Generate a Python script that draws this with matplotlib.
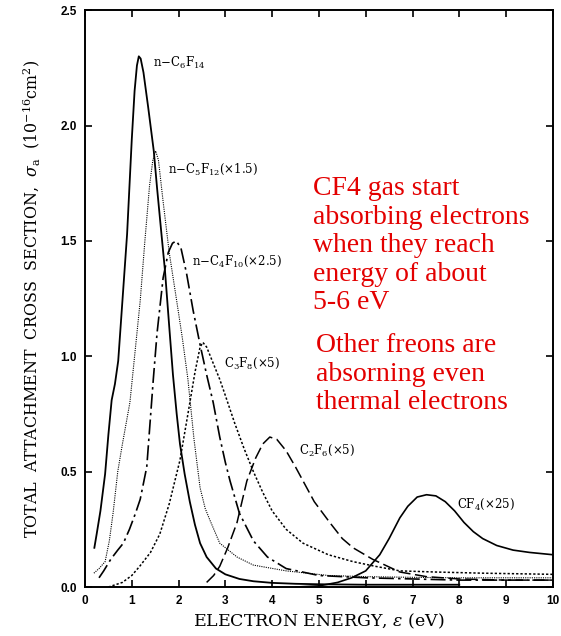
import matplotlib; matplotlib.use('Agg')
import matplotlib.pyplot as plt

plt.rcParams.update({
    'font.family': 'serif', 'font.serif': ['DejaVu Serif'],
    'mathtext.fontset': 'dejavuserif',
    'xtick.direction': 'in', 'ytick.direction': 'in',
    'axes.linewidth': 1.4,
})

# curves (energy in eV, cross section in 1e-16 cm^2)
c6f14_x = [0.2, 0.25, 0.33, 0.43, 0.5, 0.57, 0.64, 0.71, 0.8, 0.9, 1.0, 1.06, 1.11, 1.15, 1.19,
           1.25, 1.35, 1.47, 1.54, 1.62, 1.71, 1.8, 1.88, 1.96, 2.03, 2.13, 2.24, 2.35, 2.46, 2.6,
           2.8, 3.0, 3.3, 3.6, 4.0, 4.5, 5.0, 5.5, 6.0, 7.0, 8.0]
c6f14_y = [0.17, 0.23, 0.33, 0.49, 0.66, 0.81, 0.88, 0.98, 1.24, 1.53, 1.94, 2.15, 2.26, 2.30, 2.29,
           2.23, 2.08, 1.89, 1.73, 1.56, 1.37, 1.13, 0.92, 0.75, 0.62, 0.49, 0.37, 0.27, 0.19, 0.13,
           0.08, 0.055, 0.035, 0.025, 0.018, 0.014, 0.012, 0.011, 0.01, 0.01, 0.01]

c5f12_x = [0.19, 0.3, 0.43, 0.52, 0.6, 0.7, 0.8, 0.96, 1.05, 1.18, 1.28, 1.38, 1.45, 1.51, 1.57,
           1.67, 1.8, 1.96, 2.08, 2.2, 2.33, 2.46, 2.57, 2.67, 2.88, 3.25, 3.6, 4.3, 5.2, 6.0,
           7.0, 8.0, 9.0, 10.0]
c5f12_y = [0.06, 0.08, 0.11, 0.2, 0.32, 0.5, 0.62, 0.8, 0.98, 1.24, 1.5, 1.74, 1.85, 1.89, 1.85,
           1.67, 1.45, 1.24, 1.08, 0.9, 0.64, 0.43, 0.34, 0.29, 0.19, 0.13, 0.095, 0.07, 0.05, 0.045,
           0.042, 0.04, 0.04, 0.04]

c4f10_x = [0.3, 0.4, 0.55, 0.7, 0.82, 0.95, 1.08, 1.18, 1.32, 1.46, 1.54, 1.67, 1.78, 1.87, 1.95,
           2.05, 2.17, 2.31, 2.46, 2.6, 2.74, 2.88, 3.0, 3.1, 3.3, 3.6, 3.9, 4.3, 5.0, 6.0,
           7.0, 8.0, 9.0, 10.0]
c4f10_y = [0.04, 0.07, 0.12, 0.16, 0.19, 0.25, 0.32, 0.38, 0.52, 0.9, 1.1, 1.34, 1.45, 1.49, 1.50,
           1.47, 1.36, 1.2, 1.05, 0.92, 0.8, 0.65, 0.54, 0.46, 0.32, 0.2, 0.13, 0.08, 0.05, 0.04,
           0.035, 0.03, 0.03, 0.03]

c3f8_x = [0.5, 0.8, 1.0, 1.17, 1.4, 1.6, 1.8, 2.03, 2.2, 2.35, 2.46, 2.52, 2.6, 2.7, 2.88,
          3.0, 3.2, 3.4, 3.6, 3.8, 4.0, 4.3, 4.66, 5.2, 5.73, 6.2, 6.73, 7.5, 8.5, 10.0]
c3f8_y = [0.0, 0.02, 0.05, 0.09, 0.15, 0.23, 0.36, 0.55, 0.75, 0.93, 1.04, 1.06, 1.04, 0.99, 0.9,
          0.83, 0.71, 0.6, 0.5, 0.41, 0.33, 0.25, 0.19, 0.14, 0.11, 0.09, 0.07, 0.065, 0.06, 0.055]

c2f6_x = [2.6, 2.75, 2.88, 3.05, 3.25, 3.46, 3.65, 3.8, 3.95, 4.1, 4.3, 4.5, 4.66, 4.9, 5.23,
          5.5, 5.73, 6.15, 6.73, 7.3, 8.0, 9.0, 10.0]
c2f6_y = [0.02, 0.05, 0.09, 0.17, 0.28, 0.46, 0.56, 0.62, 0.65, 0.64, 0.59, 0.52, 0.46, 0.37, 0.28,
          0.21, 0.17, 0.12, 0.065, 0.045, 0.035, 0.03, 0.03]

cf4_x = [4.5, 5.0, 5.4, 5.7, 6.0, 6.3, 6.5, 6.73, 6.9, 7.1, 7.3, 7.5, 7.7, 7.9, 8.1,
         8.3, 8.5, 8.8, 9.15, 9.5, 10.0]
cf4_y = [0.0, 0.005, 0.02, 0.04, 0.07, 0.14, 0.21, 0.3, 0.35, 0.39, 0.40, 0.395, 0.37, 0.33, 0.28,
         0.24, 0.21, 0.18, 0.16, 0.15, 0.14]

labels = [r'n$-$C$_6$F$_{14}$', r'n$-$C$_5$F$_{12}$(×1.5)', r'n$-$C$_4$F$_{10}$(×2.5)',
          r'C$_3$F$_8$(×5)', r'C$_2$F$_6$(×5)', r'CF$_4$(×25)']
label_x = [1.45, 1.77, 2.29, 2.97, 4.57, 7.95]
label_y = [2.27, 1.81, 1.41, 0.97, 0.59, 0.36]

note1 = 'CF4 gas start\nabsorbing electrons\nwhen they reach\nenergy of about\n5-6 eV'
note2 = 'Other freons are\nabsorning even\nthermal electrons'

fig = plt.figure(figsize=(5.61, 6.36), dpi=100)
ax = fig.add_axes([0.1515, 0.077, 0.834, 0.907])

ax.plot(c6f14_x, c6f14_y, color='black', lw=1.3, ls='-')
ax.plot(c5f12_x, c5f12_y, color='black', lw=0.8, ls=(0, (1, 1)))
ax.plot(c4f10_x, c4f10_y, color='black', lw=1.2, ls=(0, (9, 2.5, 1.5, 2.5)))
ax.plot(c3f8_x, c3f8_y, color='black', lw=1.1, ls=(0, (1.5, 1.3)))
ax.plot(c2f6_x, c2f6_y, color='black', lw=1.1, ls=(0, (8, 3)))
ax.plot(cf4_x, cf4_y, color='black', lw=1.2, ls='-')

for t, lx, ly in zip(labels, label_x, label_y):
    ax.text(lx, ly, t, fontsize=8.5, va='center', ha='left')

ax.text(4.87, 1.78, note1, color='#e30000', fontsize=20, family='Liberation Serif',
        va='top', ha='left', linespacing=1.18)
ax.text(4.93, 1.10, note2, color='#e30000', fontsize=20, family='Liberation Serif',
        va='top', ha='left', linespacing=1.18)

ax.set_xlim(0, 10)
ax.set_ylim(0, 2.5)
ax.set_xticks(range(0, 11))
ax.set_yticks([0.0, 0.5, 1.0, 1.5, 2.0, 2.5])
ax.set_yticklabels(['0.0', '0.5', '1.0', '1.5', '2.0', '2.5'])
ax.tick_params(which='major', length=5, width=1.2, top=True, right=True, pad=6)
for lab in ax.get_xticklabels() + ax.get_yticklabels():
    lab.set_family('Liberation Sans'); lab.set_weight('bold'); lab.set_fontsize(8.5)

ax.set_xlabel(r'ELECTRON ENERGY, $\varepsilon$ (eV)', fontsize=12.5, labelpad=3)
ax.set_ylabel(r'TOTAL  ATTACHMENT  CROSS  SECTION,  $\sigma_{\rm a}$  (10$^{-16}$cm$^2$)',
              fontsize=11.4, labelpad=13)

fig.savefig('out.png', dpi=100)
